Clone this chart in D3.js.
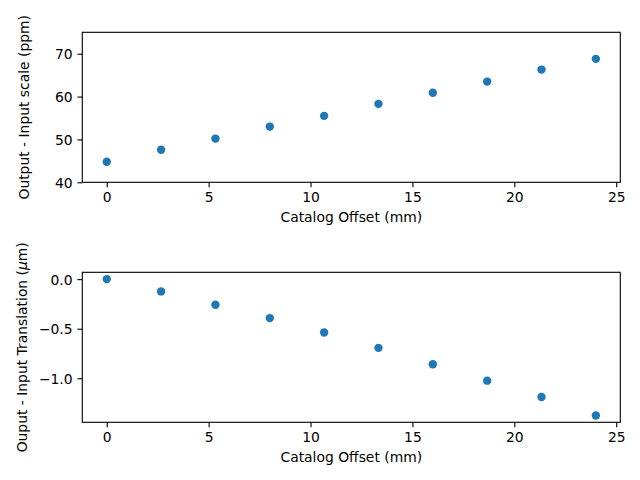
<!DOCTYPE html>
<html>
<head>
<meta charset="utf-8">
<script src="https://cdn.jsdelivr.net/npm/d3@7"></script>
<style>
html,body{margin:0;padding:0;background:#fff;}
svg text{font-family:"DejaVu Sans",sans-serif;font-size:13.89px;fill:#000;}
</style>
</head>
<body>
<svg id="chart" width="640" height="480"></svg>
<script>
// Data
const offsets = [0, 2.667, 5.333, 8.0, 10.667, 13.333, 16.0, 18.667, 21.333, 24.0];
const scaleDiff = [44.8, 47.6, 50.2, 53.0, 55.5, 58.3, 60.9, 63.5, 66.3, 68.8];
const translationDiff = [0.0, -0.124, -0.259, -0.393, -0.538, -0.693, -0.858, -1.024, -1.189, -1.375];
const xTicks = [0, 5, 10, 15, 20, 25];
const scaleTicks = [40, 50, 60, 70];
const transTicks = [0.0, -0.5, -1.0];

const svg = d3.select("#chart");
const W = 640;
const left = 82.3, right = 620.3;
const color = "#1f77b4";
const tickLen = 4.86, tickPad = 4.86;

function fmtMinus(s){ return s.replace("-", "\u2212"); }

function pad(ext){ const r = ext[1]-ext[0]; return [ext[0]-0.05*r, ext[1]+0.05*r]; }

function panel(opts){
  const {top, bottom, xs, ys, yDomain, yTicks, yFmt, yLabelX, yLabel} = opts;
  const x = d3.scaleLinear().domain(pad(d3.extent(xs))).range([left, right]);
  const y = d3.scaleLinear().domain(yDomain).range([bottom, top]);
  const g = svg.append("g");

  // points
  g.selectAll("circle").data(xs.map((d,i)=>[d, ys[i]])).enter().append("circle")
    .attr("cx", d=>x(d[0])).attr("cy", d=>y(d[1])).attr("r", 4.2)
    .attr("fill", color);

  // frame
  g.append("rect").attr("x", left).attr("y", top)
    .attr("width", right-left).attr("height", bottom-top)
    .attr("fill", "none").attr("stroke", "#000").attr("stroke-width", 1.11);

  // x axis
  const xa = g.append("g").attr("transform", `translate(0,${bottom})`)
    .call(d3.axisBottom(x).tickValues(xTicks).tickSize(tickLen).tickPadding(tickPad).tickFormat(d3.format("d")));
  xa.select(".domain").remove();
  xa.selectAll("line").attr("stroke", "#000").attr("stroke-width", 1.11);
  xa.selectAll("text").attr("font-family", null).attr("font-size", null).attr("dy", null).attr("y", 20);

  // y axis
  const ya = g.append("g").attr("transform", `translate(${left},0)`)
    .call(d3.axisLeft(y).tickValues(yTicks).tickSize(tickLen).tickPadding(tickPad).tickFormat(d=>fmtMinus(yFmt(d))));
  ya.select(".domain").remove();
  ya.selectAll("line").attr("stroke", "#000").attr("stroke-width", 1.11);
  ya.selectAll("text").attr("font-family", null).attr("font-size", null).attr("dy", "0.36em");

  // x label
  g.append("text").attr("x", (left+right)/2).attr("y", bottom+39.4)
    .attr("text-anchor", "middle").text("Catalog Offset (mm)");

  // y label
  const yl = g.append("text")
    .attr("transform", `translate(${yLabelX},${(top+bottom)/2}) rotate(-90)`)
    .attr("text-anchor", "middle");
  yLabel(yl);
}

panel({
  top: 32.3, bottom: 182.3, xs: offsets, ys: scaleDiff,
  yDomain: [40, 75], yTicks: scaleTicks, yFmt: d3.format("d"), yLabelX: 29.2,
  yLabel: t => t.text("Output - Input scale (ppm)")
});

panel({
  top: 272.3, bottom: 422.3, xs: offsets, ys: translationDiff,
  yDomain: pad(d3.extent(translationDiff)), yTicks: transTicks, yFmt: d3.format(".1f"), yLabelX: 26.8,
  yLabel: t => {
    t.append("tspan").text("Ouput - Input Translation (");
    t.append("tspan").attr("font-style", "italic").text("\u03bc");
    t.append("tspan").text("m)");
  }
});
</script>
</body>
</html>
